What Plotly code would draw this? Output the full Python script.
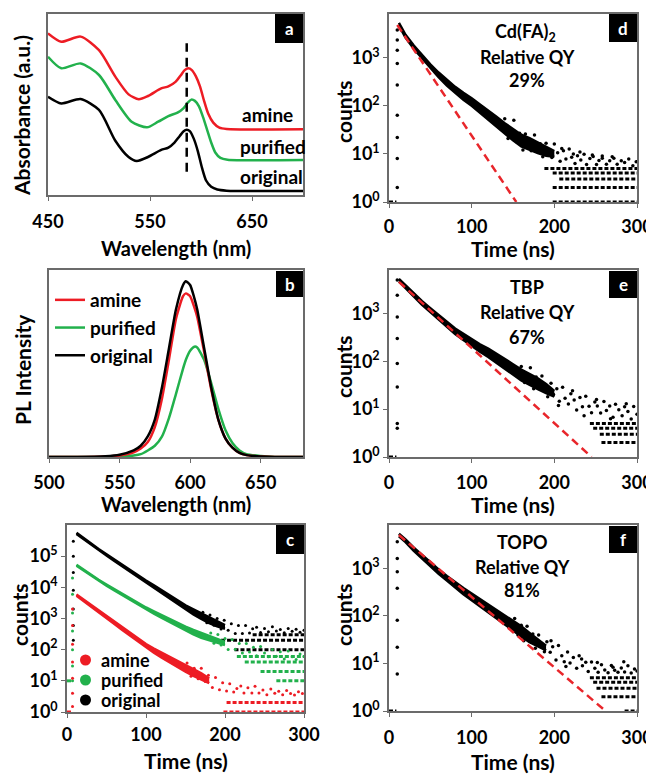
import numpy as np
import plotly.graph_objects as go

FONT = "Lato"
W, H = 654, 774
OFF = 8  # page body margin; figure is drawn at (8, 8)
RED, GREEN, BLACK = "#ed1c24", "#22b14c", "#000000"

# ---------- (a) absorbance, offset spectra (a.u.)
abs_wl_orig = [450, 463, 482, 500, 516, 529, 537, 548, 561, 568, 574, 579, 583, 586, 589, 593, 597, 601, 605, 610, 616, 625, 700]
abs_orig = [0.543, 0.506, 0.530, 0.47, 0.30, 0.21, 0.188, 0.21, 0.249, 0.262, 0.29, 0.325, 0.352, 0.36, 0.353, 0.31, 0.24, 0.15, 0.08, 0.045, 0.03, 0.024, 0.022]
abs_wl_pur = [450, 463, 482, 500, 516, 532, 547, 558, 568, 577, 583, 587, 590.5, 594, 598, 602, 606, 610, 614, 619, 626, 700]
abs_pur = [0.764, 0.70, 0.727, 0.663, 0.525, 0.405, 0.374, 0.405, 0.436, 0.455, 0.48, 0.51, 0.527, 0.52, 0.49, 0.43, 0.36, 0.29, 0.235, 0.205, 0.195, 0.193]
abs_wl_amine = [450, 463, 482, 500, 516, 529, 539, 548, 561, 568, 575, 580, 584, 587.5, 591, 595, 599, 603, 607, 612, 618, 625, 700]
abs_amine = [0.893, 0.847, 0.875, 0.80, 0.654, 0.556, 0.529, 0.547, 0.589, 0.60, 0.625, 0.66, 0.69, 0.70, 0.69, 0.655, 0.60, 0.52, 0.45, 0.40, 0.372, 0.365, 0.363]
guide_wl = [586, 586]
guide_y = [0.129, 0.838]

# ---------- (b) PL spectra
pl_wl = [500, 520, 540, 550, 560, 565, 570, 575, 580, 585, 590, 595, 597, 600, 603, 605, 610, 615, 620, 625, 630, 635, 640, 650, 660, 680]
pl_orig = [0, 0, 0.004, 0.012, 0.035, 0.06, 0.11, 0.20, 0.37, 0.58, 0.79, 0.92, 0.94, 0.92, 0.85, 0.79, 0.58, 0.37, 0.20, 0.10, 0.05, 0.022, 0.010, 0.003, 0, 0]
pl_amine = [0, 0, 0.003, 0.008, 0.025, 0.045, 0.08, 0.16, 0.31, 0.52, 0.74, 0.86, 0.875, 0.86, 0.80, 0.75, 0.56, 0.36, 0.20, 0.10, 0.05, 0.022, 0.010, 0.003, 0, 0]
pl_pur = [0, 0, 0, 0.002, 0.008, 0.015, 0.035, 0.06, 0.109, 0.208, 0.338, 0.473, 0.52, 0.568, 0.59, 0.586, 0.518, 0.394, 0.257, 0.144, 0.075, 0.035, 0.015, 0.005, 0, 0]

# ---------- (c) decays: original x100, purified x10, amine x1
c_t_red = [12, 20, 30, 40, 50, 60, 70, 80, 90, 100, 110, 120, 130, 140, 150, 160, 170, 180]
c_red = [5600, 4000, 2630, 1740, 1120, 725, 470, 310, 200, 132, 93, 66, 47, 34, 25, 18.6, 14, 10]
c_red_spread = [1.05, 1.05, 1.06, 1.06, 1.07, 1.08, 1.09, 1.10, 1.12, 1.14, 1.17, 1.2, 1.23, 1.26, 1.28, 1.28, 1.25, 1.18]
c_t_gb = [12, 20, 30, 40, 50, 60, 70, 80, 90, 100, 110, 120, 130, 140, 150, 160, 170, 180, 190, 200]
c_grn = [51300, 37150, 25100, 16600, 11750, 8300, 5900, 4170, 2950, 2090, 1550, 1150, 850, 630, 470, 363, 288, 240, 195, 158]
c_grn_spread = [1.04, 1.04, 1.04, 1.05, 1.05, 1.05, 1.06, 1.06, 1.07, 1.08, 1.09, 1.10, 1.12, 1.14, 1.16, 1.18, 1.2, 1.2, 1.18, 1.12]
c_blk = [537000, 380000, 251000, 162000, 110000, 74000, 50100, 33900, 22400, 15100, 10500, 7080, 4790, 3240, 2240, 1620, 1200, 890, 690, 537]
c_blk_spread = [1.04, 1.04, 1.04, 1.05, 1.05, 1.05, 1.06, 1.07, 1.08, 1.09, 1.10, 1.12, 1.14, 1.16, 1.18, 1.21, 1.24, 1.25, 1.22, 1.15]
c_red_sc_t = [152, 157, 161, 166, 170, 175, 179, 184, 188, 193, 197, 202, 206, 211, 215, 220, 224, 229, 234, 238, 243, 248,
              253, 258, 263, 268, 273, 278, 283, 288, 293, 298]
c_red_sc_c = [37.6, 14, 25.2, 11.6, 25.2, 9.6, 15, 6.1, 12.8, 5.2, 8.7, 4.7, 8, 4.4, 5.7, 6.8, 4.1, 6, 4.1, 6.7, 4.1, 5.1,
              3.6, 5.5, 4, 4.6, 3.6, 4.9, 3.9, 3.5, 4.5, 3.9]
c_grn_sc_t = [182, 186, 191, 195, 200, 204, 209, 213, 218, 222, 227, 231, 236, 240, 245, 250, 255, 260, 265, 270, 275, 280,
              285, 290, 295, 300]
c_grn_sc_c = [345, 161, 304, 140, 229, 101, 211, 104, 157, 78, 157, 84, 119, 64, 126, 78, 59, 102, 61, 85, 50, 90,
              59, 48, 73, 60]
c_blk_sc_t = [172, 177, 181, 186, 190, 195, 199, 204, 208, 213, 217, 222, 226, 231, 235, 240, 245, 250, 255, 260, 265, 270,
              275, 280, 285, 290, 295, 300]
c_blk_sc_c = [1580, 735, 1305, 608, 1000, 458, 880, 417, 675, 328, 597, 328, 595, 340, 469, 528, 358, 480, 378, 542, 399, 442,
              347, 480, 390, 450, 360, 420]
c_red_rows = [2, 1, 1]
c_red_rows_t0 = [202, 198, 0]
c_red_rows_t1 = [300, 300, 6]
c_grn_rows = [60, 40, 20, 10, 10]
c_grn_rows_t0 = [215, 225, 245, 265, 0]
c_grn_rows_t1 = [300, 300, 300, 300, 6]
c_blk_rows = [300, 200, 100]
c_blk_rows_t0 = [235, 195, 212]
c_blk_rows_t1 = [300, 300, 300]
c_red_rise = [1.5, 4, 12, 40, 150, 600, 2000]
c_grn_rise = [10, 30, 100, 400, 1500, 6000, 20000]
c_blk_rise = [200, 600, 2000, 8000, 30000, 100000, 300000]

# ---------- (d) Cd(FA)2
d_t = [12, 20, 30, 40, 50, 60, 70, 80, 90, 100, 110, 120, 130, 140, 150, 160, 170, 180, 190, 200]
d_c = [5000, 2800, 1660, 1050, 660, 440, 300, 214, 158, 120, 87, 65, 47, 34, 25, 19, 16, 13.5, 11.5, 10]
d_spread = [1.06, 1.07, 1.08, 1.09, 1.10, 1.12, 1.14, 1.16, 1.18, 1.2, 1.22, 1.24, 1.26, 1.28, 1.3, 1.32, 1.33, 1.3, 1.25, 1.15]
d_sc_t = [140, 144, 147, 151, 155, 158, 162, 165, 169, 172, 176, 179, 183, 186, 190, 193, 197, 200, 204, 207, 211, 214, 218,
          221, 225, 228, 232, 236, 239, 243, 247, 251, 254, 258, 263, 267, 272, 276, 281, 285, 290, 295, 299,
          209, 223, 231, 246, 258, 270]
d_sc_c = [54, 21, 32, 50, 17.6, 27, 12, 26, 16.8, 11.6, 24.6, 12.4, 16.3, 8.75, 16.7, 11, 8.4, 16, 10.6, 7, 11.7, 7.8, 12.6,
          8.5, 6.3, 9.2, 7.5, 9.9, 6, 8, 8.8, 6, 7.3, 8.1, 6.1, 7.2, 8.1, 6.1, 7.2, 6.6, 7.8, 5.7, 6.9,
          13, 10, 11, 9.5, 9, 8.7]
d_rows = [5, 4, 3, 2, 1, 1]
d_rows_t0 = [188, 198, 206, 198, 198, 0]
d_rows_t1 = [300, 300, 300, 300, 300, 9]
d_rise = [3800, 2340, 1440, 760, 270, 64, 22, 8, 2]
d_ref_t = [10, 154]
d_ref_c = [4800, 1]

# ---------- (e) TBP
e_t = [12, 20, 30, 40, 50, 60, 70, 80, 90, 100, 110, 120, 130, 140, 150, 160, 170, 180, 190, 200]
e_c = [5000, 3630, 2400, 1660, 1175, 830, 590, 427, 324, 245, 190, 151, 117, 89, 68, 52, 42, 34, 27, 21]
e_spread = [1.06, 1.07, 1.08, 1.09, 1.10, 1.11, 1.12, 1.14, 1.16, 1.18, 1.2, 1.22, 1.24, 1.26, 1.28, 1.3, 1.32, 1.3, 1.25, 1.15]
e_sc_t = [160, 164, 168, 171, 175, 178, 182, 185, 189, 192, 196, 199, 203, 206, 210, 213, 217, 220, 224, 227, 231, 234, 238,
          242, 245, 249, 252, 256, 260, 263, 267, 271, 274, 278, 282, 285, 289, 293, 296, 300,
          205, 222, 236, 251, 268, 287]
e_sc_c = [78, 36, 52.8, 73.8, 26.6, 46.8, 28, 49.6, 29.4, 18.2, 34.8, 20.3, 26.7, 14.6, 28.8, 17, 12.8, 21, 15.6, 9.6, 17.6, 11.3, 18.6,
          11.5, 8.4, 14.2, 11.7, 8.3, 14.5, 9.4, 11.6, 6.8, 12.7, 9.7, 7.3, 11.3, 8.9, 6.2, 11.4, 7.8,
          11.9, 24.3, 7.3, 16, 6.3, 13]
e_rows = [5, 4, 3, 2, 1]
e_rows_t0 = [243, 247, 255, 257, 0]
e_rows_t1 = [300, 300, 300, 300, 9]
e_rise = [5000, 2400, 850, 300, 90, 29, 5, 4]
e_ref_t = [12, 245]
e_ref_c = [4600, 1]

# ---------- (f) TOPO
f_t = [12, 20, 30, 40, 50, 60, 70, 80, 90, 100, 110, 120, 130, 140, 150, 160, 170, 180, 190]
f_c = [5000, 3800, 2510, 1740, 1200, 850, 617, 447, 331, 251, 190, 145, 110, 81, 62, 47, 35, 27, 21]
f_spread = [1.06, 1.07, 1.08, 1.09, 1.10, 1.11, 1.12, 1.14, 1.16, 1.18, 1.2, 1.22, 1.24, 1.26, 1.28, 1.28, 1.25, 1.2, 1.12]
f_sc_t = [152, 156, 160, 163, 167, 170, 174, 177, 181, 184, 188, 191, 195, 198, 202, 205, 209, 212, 216, 219, 223, 227, 230,
          234, 238, 241, 245, 249, 253, 257, 261, 265, 269, 273, 277, 281, 285, 289, 293, 297, 300,
          196, 214, 233, 252, 271, 284]
f_sc_c = [88.5, 39.8, 63.5, 30.1, 60.8, 29.8, 41.6, 20.9, 39.8, 24.5, 17.6, 28.7, 17.1, 22.5, 11.8, 23.7, 14.5, 10.8, 17.3, 10.2, 13.4, 7.9, 14.5,
          8.9, 10.6, 6.8, 10.7, 7.9, 6.5, 9.4, 7.3, 6.4, 9.1, 7.2, 6.5, 8, 6.6, 8.9, 6.3, 7.6, 6.9,
          30, 8.6, 12.4, 10.5, 8.3, 10.9]
f_rows = [5, 4, 3, 2, 1, 1]
f_rows_t0 = [243, 247, 251, 257, 285, 0]
f_rows_t1 = [300, 300, 300, 300, 300, 9]
f_rise = [3600, 1600, 850, 380, 81, 22, 6]
f_ref_t = [12, 262]
f_ref_c = [5000, 1]

FW, FH = W - OFF, H - OFF


def px(x):
    return (x - OFF) / FW


def py(y):
    return 1 - (y - OFF) / FH


fig = go.Figure()

# (a)
for wl, a, col in [(abs_wl_orig, abs_orig, BLACK), (abs_wl_pur, abs_pur, GREEN), (abs_wl_amine, abs_amine, RED)]:
    fig.add_trace(go.Scatter(x=wl, y=a, mode="lines", line=dict(color=col, width=2.5, shape="spline", smoothing=0.7),
                             showlegend=False, xaxis="x", yaxis="y"))
fig.add_trace(go.Scatter(x=guide_wl, y=guide_y, mode="lines", line=dict(color=BLACK, width=2.5, dash="9px,6px"),
                         showlegend=False, xaxis="x", yaxis="y"))

# (b)
for name, y, col, rank in [("purified", pl_pur, GREEN, 2), ("amine", pl_amine, RED, 1), ("original", pl_orig, BLACK, 3)]:
    fig.add_trace(go.Scatter(x=pl_wl, y=y, mode="lines", name=name, legendrank=rank,
                             line=dict(color=col, width=2.5, shape="spline", smoothing=0.6),
                             xaxis="x2", yaxis="y2"))


def add_decay(xa, ya, t, c, spread, col, sc_t, sc_c, rows, r0, r1, rise_t, rise_c, msize=3.5):
    c = np.array(c, float)
    s = np.array(spread, float)
    fig.add_trace(go.Scatter(x=t, y=c / s, mode="lines", line=dict(color=col, width=2.5),
                             showlegend=False, xaxis=xa, yaxis=ya))
    fig.add_trace(go.Scatter(x=t, y=c * s, mode="lines", line=dict(color=col, width=2.5), fill="tonexty",
                             fillcolor=col, showlegend=False, xaxis=xa, yaxis=ya))
    rx, ry = [], []
    for v, a, b in zip(rows, r0, r1):
        rx += [a, b, None]
        ry += [v, v, None]
    fig.add_trace(go.Scatter(x=rx, y=ry, mode="lines", line=dict(color=col, width=3, dash="4px,2px"),
                             showlegend=False, xaxis=xa, yaxis=ya))
    fig.add_trace(go.Scatter(x=list(sc_t) + [rise_t] * len(rise_c), y=list(sc_c) + list(rise_c), mode="markers",
                             marker=dict(color=col, size=msize), showlegend=False, xaxis=xa, yaxis=ya))


# (c)
add_decay("x3", "y3", c_t_gb, c_blk, c_blk_spread, BLACK, c_blk_sc_t, c_blk_sc_c,
          c_blk_rows, c_blk_rows_t0, c_blk_rows_t1, 8, c_blk_rise, 3)
add_decay("x3", "y3", c_t_gb, c_grn, c_grn_spread, GREEN, c_grn_sc_t, c_grn_sc_c,
          c_grn_rows, c_grn_rows_t0, c_grn_rows_t1, 7, c_grn_rise, 3)
add_decay("x3", "y3", c_t_red, c_red, c_red_spread, RED, c_red_sc_t, c_red_sc_c,
          c_red_rows, c_red_rows_t0, c_red_rows_t1, 7, c_red_rise, 3)

# (d)(e)(f)
for xa, ya, t, c, s, sct, scc, rows, r0, r1, rise, rt, rc in [
    ("x4", "y4", d_t, d_c, d_spread, d_sc_t, d_sc_c, d_rows, d_rows_t0, d_rows_t1, d_rise, d_ref_t, d_ref_c),
    ("x5", "y5", e_t, e_c, e_spread, e_sc_t, e_sc_c, e_rows, e_rows_t0, e_rows_t1, e_rise, e_ref_t, e_ref_c),
    ("x6", "y6", f_t, f_c, f_spread, f_sc_t, f_sc_c, f_rows, f_rows_t0, f_rows_t1, f_rise, f_ref_t, f_ref_c),
]:
    add_decay(xa, ya, t, c, s, BLACK, sct, scc, rows, r0, r1, 10, rise)
    fig.add_trace(go.Scatter(x=rt, y=rc, mode="lines", line=dict(color="#e8262b", width=2.5, dash="8px,5px"),
                             showlegend=False, xaxis=xa, yaxis=ya))

# ---------- axes
tickfont = dict(family=FONT, size=18, color="black", weight="bold")
base = dict(showline=True, linecolor="#6b6b6b", linewidth=1.5, mirror=True, showgrid=False, zeroline=False,
            ticks="outside", ticklen=4, tickcolor="#6b6b6b", tickfont=tickfont, automargin=False)

dom = {
    "a": ((48, 303), (14, 195)),
    "b": ((49, 303), (270, 457)),
    "c": ((67, 304), (525, 712)),
    "d": ((389, 637), (14, 202)),
    "e": ((389, 637), (270, 457)),
    "f": ((389, 637), (525, 711)),
}


def xd(k):
    return [px(dom[k][0][0]), px(dom[k][0][1])]


def yd(k):
    return [py(dom[k][1][1]), py(dom[k][1][0])]


logticks = dict(type="log", tickvals=[1, 10, 100, 1000, 1e4, 1e5],
                ticktext=["10<sup>%d</sup>" % i for i in range(6)])
timex = dict(range=[0, 300], tickvals=[0, 100, 200, 300])

fig.update_layout(
    xaxis=dict(base, domain=xd("a"), anchor="y", range=[450, 700], tickvals=[450, 550, 650], ticklabelstandoff=6),
    yaxis=dict(base, domain=yd("a"), anchor="x", range=[0, 1], showticklabels=False, ticks=""),
    xaxis2=dict(base, domain=xd("b"), anchor="y2", range=[500, 680], tickvals=[500, 550, 600, 650], ticklabelstandoff=5),
    yaxis2=dict(base, domain=yd("b"), anchor="x2", range=[0, 1], showticklabels=False, ticks=""),
    xaxis3=dict(base, domain=xd("c"), anchor="y3", ticklabelstandoff=2, **timex),
    yaxis3=dict(base, domain=yd("c"), anchor="x3", range=[0, 6], **logticks),
    xaxis4=dict(base, domain=xd("d"), anchor="y4", ticklabelstandoff=4, **timex),
    yaxis4=dict(base, domain=yd("d"), anchor="x4", range=[0, 3.91], **logticks),
    xaxis5=dict(base, domain=xd("e"), anchor="y5", ticklabelstandoff=5, **timex),
    yaxis5=dict(base, domain=yd("e"), anchor="x5", range=[0, 3.91], **logticks),
    xaxis6=dict(base, domain=xd("f"), anchor="y6", ticklabelstandoff=6, **timex),
    yaxis6=dict(base, domain=yd("f"), anchor="x6", range=[0, 3.91], **logticks),
)


def label(x, y, text, size=19, angle=0, color="black", xanchor="center"):
    return dict(xref="paper", yref="paper", x=px(x), y=py(y), text=text, showarrow=False, textangle=angle,
                font=dict(family=FONT, size=size, color=color, weight="bold"), xanchor=xanchor, yanchor="middle")


ann = [
    label(176, 248, "Wavelength (nm)", 20),
    label(21, 116, "Absorbance (a.u.)", 21, -90),
    label(240, 115, "amine", 19, xanchor="left"),
    label(238, 146, "purified", 19, xanchor="left"),
    label(238, 176, "original", 19, xanchor="left"),
    label(176, 504, "Wavelength (nm)", 20),
    label(22, 370, "PL Intensity", 21, -90),
    label(186, 760, "Time (ns)", 21),
    label(19, 615, "counts", 21, -90),
    label(513, 248, "Time (ns)", 21),
    label(343, 112, "counts", 21, -90),
    label(513, 504, "Time (ns)", 21),
    label(343, 367, "counts", 21, -90),
    label(513, 761, "Time (ns)", 21),
    label(343, 615, "counts", 21, -90),
    label(525, 32, "Cd(FA)<sub>2</sub>", 18),
    label(527, 57, "Relative QY", 18),
    label(527, 80, "29%", 18),
    label(527, 287, "TBP", 18),
    label(527, 312, "Relative QY", 18),
    label(527, 337, "67%", 18),
    label(522, 542, "TOPO", 18),
    label(522, 567, "Relative QY", 18),
    label(522, 590, "81%", 18),
]

shapes = []
boxes = {"a": (275, 303, 14, 43), "b": (276, 303, 271, 297), "c": (276, 304, 525, 554),
         "d": (609, 637, 14, 42), "e": (609, 637, 271, 298), "f": (609, 637, 526, 553)}
for k, (x0, x1, y0, y1) in boxes.items():
    shapes.append(dict(type="rect", xref="paper", yref="paper", x0=px(x0), x1=px(x1), y0=py(y1), y1=py(y0),
                       fillcolor="black", line=dict(width=0)))
    ann.append(label((x0 + x1) / 2, (y0 + y1) / 2, k, 17, color="white"))

# legend of panel c (marker swatches)
for name, col, yy in [("amine", RED, 660), ("purified", GREEN, 680), ("original", BLACK, 700)]:
    shapes.append(dict(type="circle", xref="paper", yref="paper", x0=px(80), x1=px(91), y0=py(yy + 5.5), y1=py(yy - 5.5),
                       fillcolor=col, line=dict(width=0)))
    ann.append(label(99, yy, name, 18, xanchor="left"))

fig.update_layout(
    width=FW, height=FH, margin=dict(l=0, r=0, t=0, b=0, autoexpand=False),
    paper_bgcolor="white", plot_bgcolor="white",
    annotations=ann, shapes=shapes,
    legend=dict(x=px(50), y=py(281), xanchor="left", yanchor="top", bgcolor="rgba(0,0,0,0)", traceorder="normal",
                font=dict(family=FONT, size=19, color="black", weight="bold"), tracegroupgap=0),
)

fig.write_html("out.html")
